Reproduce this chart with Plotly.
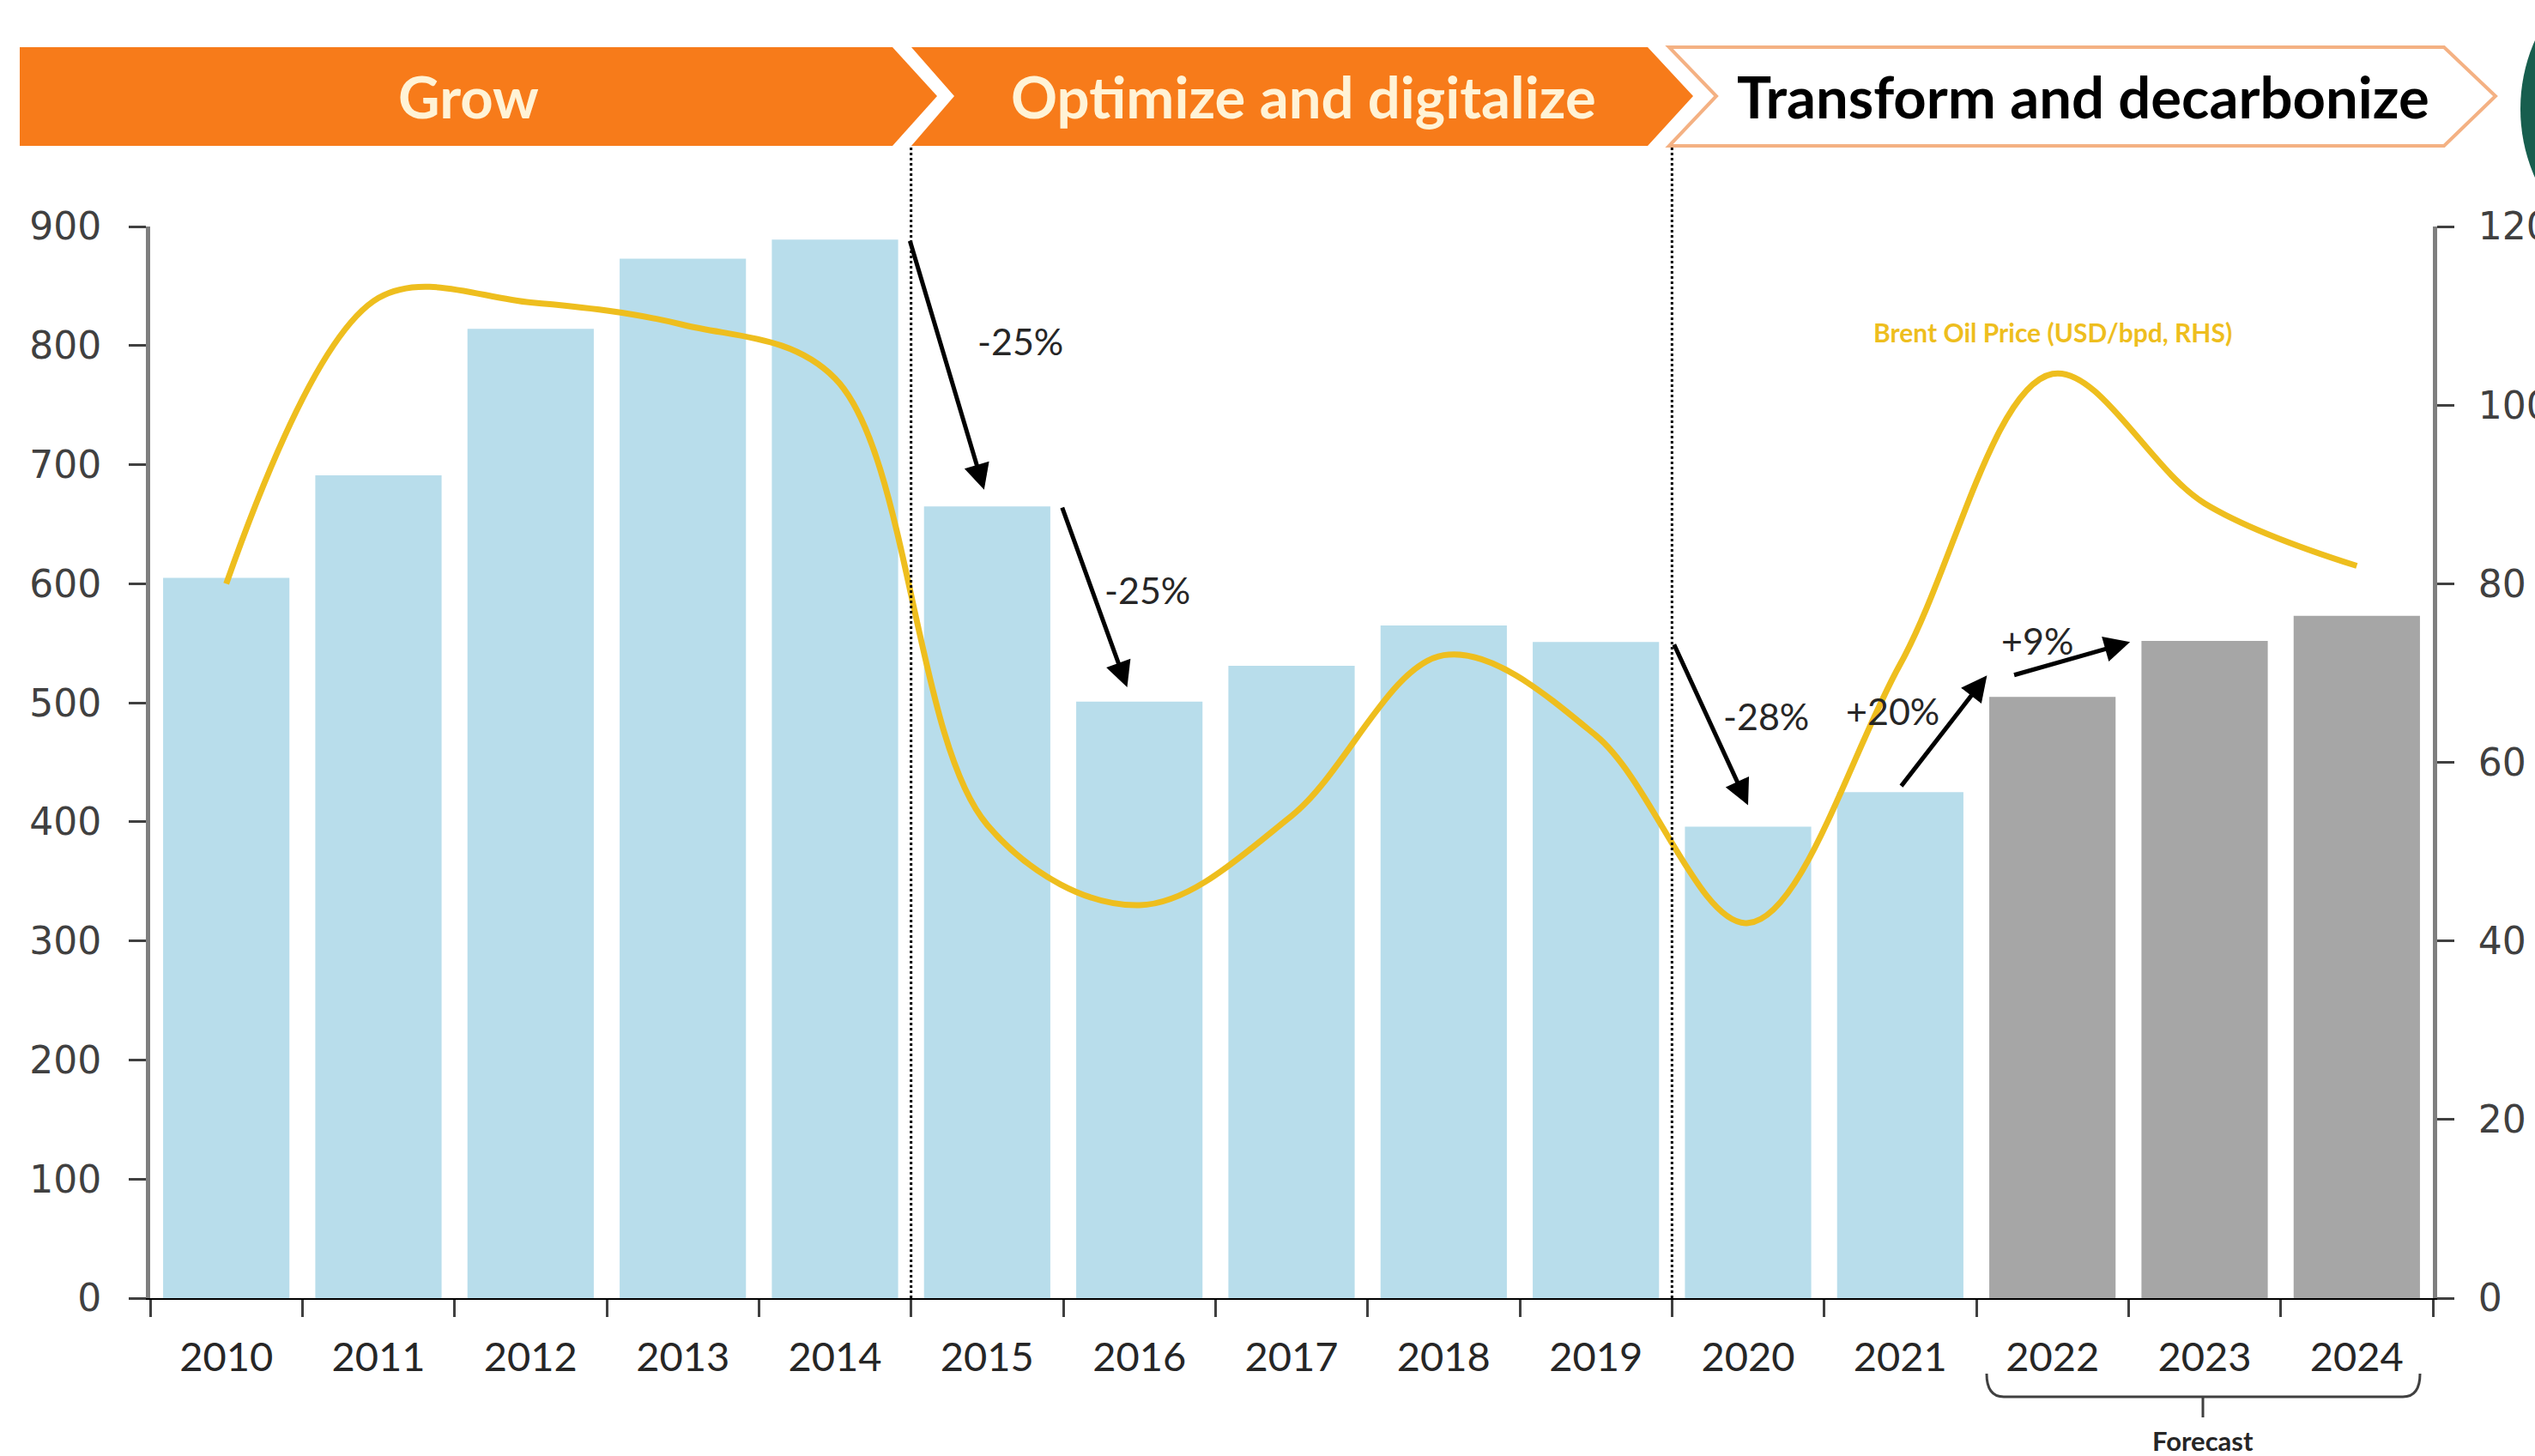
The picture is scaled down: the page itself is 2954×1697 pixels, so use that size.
import plotly.graph_objects as go

# ---- data ----
anos = [str(a) for a in range(2010, 2025)]
investimento = [605, 691, 814, 873, 889, 665, 501, 531, 565, 551, 396, 425, 505, 552, 573]
brent = [80, 112, 111.5, 109, 103, 53, 44, 54, 72, 63, 42, 71, 103.5, 89, 82]
anos_previsao = ["2022", "2023", "2024"]

fases = ["Grow", "Optimize and digitalize", "Transform and decarbonize"]
variacoes = ["-25%", "-25%", "-28%", "+20%", "+9%"]

CORES = {
    "barra": "#B8DDEB",
    "previsao": "#A6A6A6",
    "brent": "#EEBE1E",
    "laranja": "#F77B1A",
    "contorno": "#F4B183",
    "eixo": "#7F7F7F",
    "texto": "#404040",
    "verde": "#175E4E",
}

W, H = 2954, 1697
L, R, T, B = 175, 119, 264, 184
PW, PH = W - L - R, H - T - B


def px(x):
    return (x - L) / PW


def py(y):
    return (H - B - y) / PH


def caminho(pontos):
    s = "M " + " L ".join(f"{px(x):.5f},{py(y):.5f}" for x, y in pontos)
    return s + " Z"


fig = go.Figure()
fig.add_trace(go.Bar(
    x=anos, y=investimento,
    marker_color=[CORES["previsao"] if a in anos_previsao else CORES["barra"] for a in anos],
    marker_line_width=0, width=0.83, showlegend=False,
))
fig.add_trace(go.Scatter(
    x=anos, y=brent, yaxis="y2", mode="lines",
    line=dict(color=CORES["brent"], width=7, shape="spline", smoothing=1.0),
    showlegend=False,
))

shapes = []
# chevrons do topo
topo, base, meio = 55, 170, 112
shapes.append(dict(type="path", xref="paper", yref="paper", layer="above",
                   path=caminho([(23, topo), (1040, topo), (1092, meio), (1040, base), (23, base)]),
                   fillcolor=CORES["laranja"], line=dict(width=0)))
shapes.append(dict(type="path", xref="paper", yref="paper", layer="above",
                   path=caminho([(1062, topo), (1920, topo), (1973, meio), (1920, base), (1062, base), (1112, meio)]),
                   fillcolor=CORES["laranja"], line=dict(width=0)))
shapes.append(dict(type="path", xref="paper", yref="paper", layer="above",
                   path=caminho([(1945, topo), (2848, topo), (2908, meio), (2848, base), (1945, base), (2000, meio)]),
                   fillcolor="white", line=dict(color=CORES["contorno"], width=4)))
# logo verde cortado na borda
shapes.append(dict(type="circle", xref="paper", yref="paper",
                   x0=px(2937), x1=px(3331), y0=py(324), y1=py(-70),
                   fillcolor=CORES["verde"], line=dict(width=0)))
# separadores pontilhados entre fases
for xc in [4.5, 9.5]:
    shapes.append(dict(type="line", xref="x", yref="paper", x0=xc, x1=xc, y0=0, y1=py(base),
                       line=dict(color="black", width=3, dash="dot")))
# chave de "Forecast"
xl, xr, xm = 2315, 2820, 2567
yh, yb, yt = 1601, 1628, 1652
chave = (f"M {px(xl)},{py(yh)} Q {px(xl)},{py(yb)} {px(xl + 20)},{py(yb)} "
         f"L {px(xr - 20)},{py(yb)} Q {px(xr)},{py(yb)} {px(xr)},{py(yh)} "
         f"M {px(xm)},{py(yb)} L {px(xm)},{py(yt)}")
shapes.append(dict(type="path", xref="paper", yref="paper", path=chave,
                   line=dict(color="#404040", width=3)))

anots = []
pos_fases = [(546, "#FFF3D6"), (1519, "#FFF3D6"), (2427, "black")]
for nome, (xc, cor) in zip(fases, pos_fases):
    anots.append(dict(text=f"<b>{nome}</b>", xref="paper", yref="paper", x=px(xc), y=py(meio),
                      xanchor="center", yanchor="middle", showarrow=False,
                      font=dict(family="Lato", size=67, color=cor)))

# setas de variacao (cauda -> cabeca)
setas = [((4.49, 889), (4.98, 679)), ((5.49, 665), (5.92, 513)), ((9.51, 550), (10.0, 414)),
         ((11.0, 429), (11.57, 523)), ((11.74, 523), (12.51, 551))]
for (ax_, ay_), (hx, hy) in setas:
    anots.append(dict(x=hx, y=hy, ax=ax_, ay=ay_, xref="x", yref="y", axref="x", ayref="y",
                      text="", showarrow=True, arrowhead=2, arrowsize=1.2, arrowwidth=5,
                      arrowcolor="black", standoff=0, startstandoff=0))
pos_rotulos = [(5.22, 804), (6.05, 595), (10.12, 489), (10.95, 493), (11.9, 552)]
for txt, (xt, yt_) in zip(variacoes, pos_rotulos):
    anots.append(dict(text=txt, x=xt, y=yt_, xref="x", yref="y", showarrow=False,
                      font=dict(family="Lato", size=43, color="#262626")))

anots.append(dict(text="<b>Brent Oil Price (USD/bpd, RHS)</b>", x=12, y=108.2, xref="x", yref="y2",
                  showarrow=False, font=dict(family="Lato", size=30, color=CORES["brent"])))
anots.append(dict(text="<b>Forecast</b>", xref="paper", yref="paper", x=px(xm), y=py(1679),
                  xanchor="center", yanchor="middle", showarrow=False,
                  font=dict(family="Lato", size=31, color="#262626")))

eixo_y = dict(showgrid=False, zeroline=False, showline=True, linecolor=CORES["eixo"], linewidth=5,
              ticks="outside", ticklen=20, tickwidth=3, tickcolor="#404040", automargin=False,
              tickfont=dict(family="DejaVu Sans", size=44, color=CORES["texto"]))

fig.update_layout(
    width=W, height=H, autosize=False,
    margin=dict(l=L, r=R, t=T, b=B),
    paper_bgcolor="white", plot_bgcolor="white",
    xaxis=dict(type="category", range=[-0.5, 14.5], tickson="boundaries", ticks="outside",
               ticklen=20, tickwidth=3, tickcolor="#404040", showline=True, linecolor="black",
               linewidth=2, showgrid=False, automargin=False, ticklabelstandoff=27,
               tickfont=dict(family="Lato", size=47, color="#262626")),
    yaxis=dict(range=[0, 900], dtick=100, ticklabelstandoff=23, **eixo_y),
    yaxis2=dict(range=[0, 120], dtick=20, overlaying="y", side="right", ticklabelstandoff=19, **eixo_y),
    shapes=shapes,
    annotations=anots,
)

fig.write_html("out.html", config={"displayModeBar": False},
               post_script="document.body.style.margin='0';")
